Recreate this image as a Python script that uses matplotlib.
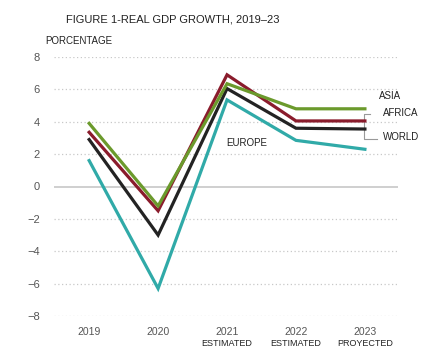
import matplotlib.pyplot as plt
import matplotlib.transforms as mtransforms

plt.rcParams['font.family'] = ['Liberation Sans', 'DejaVu Sans']

years = ['2019', '2020', '2021', '2022', '2023']
sublabels = ['', '', 'ESTIMATED', 'ESTIMATED', 'PROYECTED']
asia = [3.9, -1.2, 6.35, 4.8, 4.8]
africa = [3.35, -1.5, 6.9, 4.05, 4.05]
world = [2.9, -3.0, 6.05, 3.6, 3.55]
europe = [1.6, -6.3, 5.35, 2.85, 2.3]
yticks = [-8, -6, -4, -2, 0, 2, 4, 6, 8]

colors = {'ASIA': '#6b9a2c', 'AFRICA': '#8a1c2c', 'WORLD': '#232323', 'EUROPE': '#30aaa8'}

fig = plt.figure(figsize=(4.46, 3.57), dpi=100)
ax = fig.add_axes([54 / 446, 41 / 357, 344 / 446, 259 / 357])

for t in yticks:
    if t == 0:
        ax.axhline(t, color='#cccccc', lw=1.3, zorder=1)
    else:
        ax.axhline(t, color='#c8c8c8', lw=0.9, ls=(0, (1, 2)), zorder=1)

x = range(len(years))
series = [('EUROPE', europe), ('WORLD', world), ('AFRICA', africa), ('ASIA', asia)]
for name, vals in series:
    ax.plot(x, vals, color=colors[name], lw=2.3, solid_joinstyle='miter', zorder=3)

ax.set_xlim(-0.51, 4.48)
ax.set_ylim(-8, 8)
ax.set_yticks(yticks)
ax.set_yticklabels([str(t).replace('-', '\u2212') for t in yticks])
ax.set_xticks([])
ax.tick_params(length=0, colors='#555555', labelsize=8)
ax.tick_params(axis='y', pad=10)
for s in ax.spines.values():
    s.set_visible(False)

trans = mtransforms.blended_transform_factory(ax.transData, fig.transFigure)
for i, (yr, lab) in enumerate(zip(years, sublabels)):
    ax.text(i, 1 - 332 / 357, yr, transform=trans, ha='center', va='center',
            fontsize=7.5, color='#555555')
    if lab:
        ax.text(i, 1 - 344 / 357, lab, transform=trans, ha='center', va='center',
                fontsize=6.5, color='#222222')

# series labels
ax.text(4.2, 5.6, 'ASIA', fontsize=7, color='#222222', ha='left', va='center')
ax.text(4.26, 4.55, 'AFRICA', fontsize=7, color='#222222', ha='left', va='center')
ax.text(4.26, 3.05, 'WORLD', fontsize=7, color='#222222', ha='left', va='center')
ax.text(2.28, 2.7, 'EUROPE', fontsize=7, color='#222222', ha='center', va='center')

# bracket
ax.plot([4.07, 3.99, 3.99, 4.18], [4.45, 4.45, 2.95, 2.95], color='#999999', lw=0.8,
        clip_on=False, zorder=2)

fig.text(66 / 446, 1 - 20 / 357, 'FIGURE 1-REAL GDP GROWTH, 2019\u201323',
         fontsize=8, color='#222222', ha='left', va='center')
fig.text(45 / 446, 1 - 41 / 357, 'PORCENTAGE', fontsize=7, color='#222222',
         ha='left', va='center')

fig.savefig('out.png', dpi=100, facecolor='white')
